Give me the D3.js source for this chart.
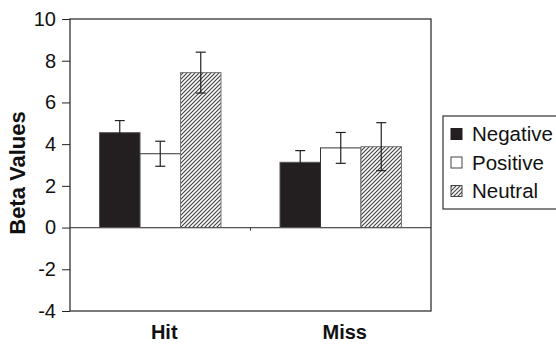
<!DOCTYPE html>
<head>
  <meta charset="utf-8">
  <script src="https://d3js.org/d3.v7.min.js"></script>
  <style>
    body { margin:0; background:#fff; }
    text { font-family: Arial, "Liberation Sans", sans-serif; fill:#111; }
    .yAxis path { display:none; }
    .yAxis line { stroke:#222; }
  </style>
</head>
<body>
  <script>
    // chart values
    var categories = ['Hit', 'Miss'];
    var series = ['Negative', 'Positive', 'Neutral'];
    var negative = [4.55, 3.13];
    var positive = [3.54, 3.82];
    var neutral = [7.43, 3.88];
    var negErr = [0.58, 0.56];
    var posErr = [0.6, 0.74];
    var neuErr = [0.98, 1.15];
    var yTicks = [-4, -2, 0, 2, 4, 6, 8, 10];

    var width = 556, height = 345;
    var margin = {top: 19, right: 125, bottom: 34, left: 70};

    var svg = d3.select('body').append('svg')
      .attr('width', width).attr('height', height);

    var defs = svg.append('defs');
    var pat = defs.append('pattern')
      .attr('id', 'hatch')
      .attr('patternUnits', 'userSpaceOnUse')
      .attr('width', 4).attr('height', 4);
    pat.append('rect').attr('width', 4).attr('height', 4).attr('fill', '#fff');
    pat.append('path')
      .attr('d', 'M-1,1 l2,-2 M0,4 l4,-4 M3,5 l2,-2')
      .attr('stroke', '#444').attr('stroke-width', 1.2);

    var fills = {Negative: '#231f20', Positive: '#fff', Neutral: 'url(#hatch)'};
    var strokes = {Negative: '#555', Positive: '#333', Neutral: '#777'};

    var y = d3.scaleLinear().domain([-4, 10]).range([height - margin.bottom, margin.top]);
    var x0 = d3.scaleBand().domain(categories).range([margin.left, width - margin.right]);
    var groupW = 121.5;
    var x1 = d3.scaleBand().domain(series).range([-groupW / 2, groupW / 2]);

    var rows = [];
    categories.forEach(function(c, i) {
      rows.push({cat: c, s: 'Negative', v: negative[i], e: negErr[i]});
      rows.push({cat: c, s: 'Positive', v: positive[i], e: posErr[i]});
      rows.push({cat: c, s: 'Neutral', v: neutral[i], e: neuErr[i]});
    });

    var cx = function(d) { return x0(d.cat) + x0.bandwidth() / 2 + x1(d.s); };

    // bars
    svg.selectAll('.bar').data(rows).enter().append('rect')
      .attr('class', 'bar')
      .attr('x', cx)
      .attr('y', function(d) { return y(d.v); })
      .attr('width', x1.bandwidth())
      .attr('height', function(d) { return y(0) - y(d.v); })
      .attr('fill', function(d) { return fills[d.s]; })
      .attr('stroke', function(d) { return strokes[d.s]; })
      .attr('stroke-width', 1);

    // error bars
    var eb = svg.selectAll('.err').data(rows).enter().append('g').attr('class', 'err')
      .attr('stroke', '#222').attr('stroke-width', 1.2);
    eb.append('line')
      .attr('x1', function(d) { return cx(d) + x1.bandwidth() / 2; })
      .attr('x2', function(d) { return cx(d) + x1.bandwidth() / 2; })
      .attr('y1', function(d) { return y(d.v + d.e); })
      .attr('y2', function(d) { return y(d.v - d.e); });
    [1, -1].forEach(function(sgn) {
      eb.append('line')
        .attr('x1', function(d) { return cx(d) + x1.bandwidth() / 2 - 5; })
        .attr('x2', function(d) { return cx(d) + x1.bandwidth() / 2 + 5; })
        .attr('y1', function(d) { return y(d.v + sgn * d.e); })
        .attr('y2', function(d) { return y(d.v + sgn * d.e); });
    });

    // zero line + category separator tick
    svg.append('line')
      .attr('x1', margin.left).attr('x2', width - margin.right)
      .attr('y1', y(0)).attr('y2', y(0))
      .attr('stroke', '#555').attr('stroke-width', 1.2);
    svg.append('line')
      .attr('x1', x0('Miss')).attr('x2', x0('Miss'))
      .attr('y1', y(0)).attr('y2', y(0) + 3)
      .attr('stroke', '#333');

    // frame
    svg.append('rect')
      .attr('x', margin.left).attr('y', margin.top)
      .attr('width', width - margin.right - margin.left)
      .attr('height', height - margin.bottom - margin.top)
      .attr('fill', 'none').attr('stroke', '#333').attr('stroke-width', 1.3);

    // y axis
    var yAxisG = svg.append('g').attr('class', 'yAxis')
      .attr('transform', 'translate(' + margin.left + ',0)')
      .call(d3.axisLeft(y).tickValues(yTicks).tickSize(8).tickPadding(6)
        .tickFormat(function(d) { return String(d); }));
    yAxisG.selectAll('text').style('font-size', '20px').attr('fill', '#111');

    svg.append('text')
      .attr('transform', 'translate(25,173) rotate(-90)')
      .attr('text-anchor', 'middle')
      .style('font-size', '22px').style('font-weight', 'bold')
      .text('Beta Values');

    // category labels
    svg.selectAll('.catLabel').data(categories).enter().append('text')
      .attr('class', 'catLabel')
      .attr('x', function(c) { return x0(c) + x0.bandwidth() / 2 + 4; })
      .attr('y', 339)
      .attr('text-anchor', 'middle')
      .style('font-size', '20px').style('font-weight', 'bold')
      .text(function(c) { return c; });

    // legend
    var lg = svg.append('g').attr('transform', 'translate(443,116)');
    lg.append('rect').attr('width', 120).attr('height', 93)
      .attr('fill', '#fff').attr('stroke', '#333').attr('stroke-width', 1.2);
    var item = lg.selectAll('.item').data(series).enter().append('g')
      .attr('transform', function(d, i) { return 'translate(8,' + (18 + i * 28.5) + ')'; });
    item.append('rect')
      .attr('x', 0).attr('y', -5.5).attr('width', 11).attr('height', 11)
      .attr('fill', function(d) { return fills[d]; })
      .attr('stroke', function(d) { return d === 'Negative' ? '#231f20' : '#444'; });
    item.append('text')
      .attr('x', 21).attr('y', 7)
      .style('font-size', '20.5px')
      .text(function(d) { return d; });
  </script>
</body>
